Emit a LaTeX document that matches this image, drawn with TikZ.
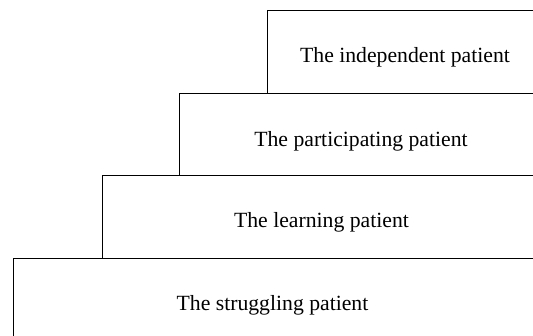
\documentclass[tikz,border=0pt]{standalone}
\usepackage{fontspec}
\setmainfont{Liberation Serif}
\begin{document}
\begin{tikzpicture}[x=1pt,y=1pt,
  stepline/.style={draw=black,line width=0.9pt,line join=miter},
  steplabel/.style={anchor=base,inner sep=0pt,font=\fontsize{21.7}{26}\selectfont}]
\useasboundingbox (0,0) rectangle (533,336);
% corners of the stair steps
\coordinate (s1b) at (13,0);    \coordinate (s1t) at (13,78);   \coordinate (s1r) at (534,78);
\coordinate (s2b) at (102,78);  \coordinate (s2t) at (102,161); \coordinate (s2r) at (534,161);
\coordinate (s3b) at (179,161); \coordinate (s3t) at (179,243); \coordinate (s3r) at (534,243);
\coordinate (s4b) at (267,243); \coordinate (s4t) at (267,326); \coordinate (s4r) at (534,326);
\draw[stepline] (s1b) -- (s1t) -- (s1r);
\draw[stepline] (s2b) -- (s2t) -- (s2r);
\draw[stepline] (s3b) -- (s3t) -- (s3r);
\draw[stepline] (s4b) -- (s4t) -- (s4r);
\node[steplabel] (l4) at (405,273) {The independent patient};
\node[steplabel] (l3) at (361,189.5) {The participating patient};
\node[steplabel] (l2) at (321.5,108) {The learning patient};
\node[steplabel] (l1) at (272.5,25) {The struggling patient};
\end{tikzpicture}
\end{document}
